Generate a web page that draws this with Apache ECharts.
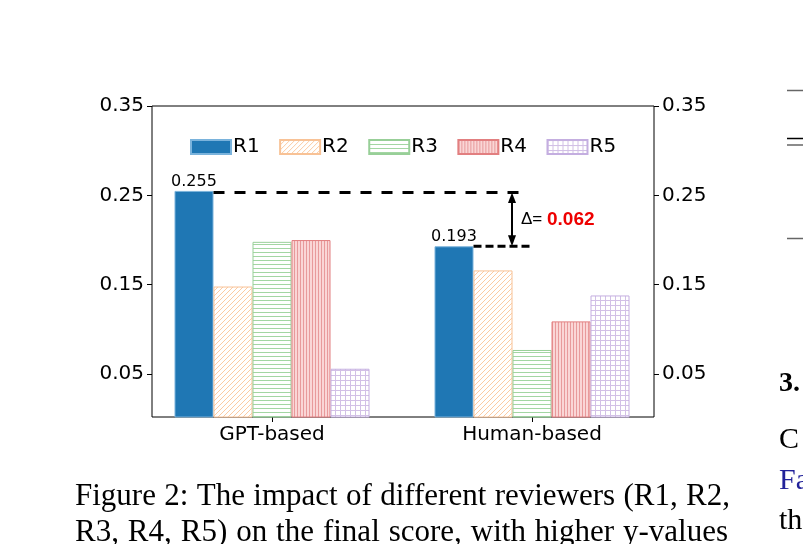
<!DOCTYPE html>
<html>
<head>
<meta charset="utf-8">
<script src="https://cdn.jsdelivr.net/npm/echarts@6/dist/echarts.min.js"></script>
<style>
  html, body { margin: 0; padding: 0; background: #fff; }
  #main { width: 803px; height: 544px; }
</style>
</head>
<body>
<div id="main"></div>
<script>
// data
const groups = ['GPT-based', 'Human-based'];
const reviewers = ['R1', 'R2', 'R3', 'R4', 'R5'];
const r1 = [0.255, 0.193];
const r2 = [0.148, 0.166];
const r3 = [0.198, 0.077];
const r4 = [0.200, 0.109];
const r5 = [0.056, 0.138];
const yTicks = [0.05, 0.15, 0.25, 0.35];

const captionLines = [
    'Figure 2: The impact of different reviewers (R1, R2,',
    'R3, R4, R5) on the final score, with higher y-values'
];

const FONT = 'DejaVu Sans';
const BAR_W = 39;

// small canvas tiles for the hatched bars
function hatch(kind, line, bg) {
    const s = kind === 'vert' ? 3 : kind === 'horiz' ? 4 : 5;
    const c = document.createElement('canvas');
    c.width = s;
    c.height = s;
    const g = c.getContext('2d');
    g.fillStyle = bg;
    g.fillRect(0, 0, s, s);
    g.fillStyle = line;
    g.strokeStyle = line;
    if (kind === 'diag') {
        g.lineWidth = 1;
        g.beginPath();
        g.moveTo(0, s); g.lineTo(s, 0);
        g.moveTo(-1, 1); g.lineTo(1, -1);
        g.moveTo(s - 1, s + 1); g.lineTo(s + 1, s - 1);
        g.stroke();
    } else if (kind === 'horiz') {
        g.fillRect(0, 0, s, 1);
    } else if (kind === 'vert') {
        g.fillRect(0, 0, 1, s);
    } else {
        g.fillRect(0, 0, s, 1);
        g.fillRect(0, 0, 1, s);
    }
    return { image: c, repeat: 'repeat' };
}

const fills = [
    '#1f77b4',
    hatch('diag', '#fbcba2', '#ffffff'),
    hatch('horiz', '#a3d6a3', '#ffffff'),
    hatch('vert', '#e89a9b', '#fad6d6'),
    hatch('grid', '#d2c0e6', '#ffffff')
];
const borders = ['#7ab3dc', '#f8c296', '#98cf98', '#e27f80', '#c4aee0'];
const values = [r1, r2, r3, r4, r5];

const chart = echarts.init(document.getElementById('main'), null, { renderer: 'canvas' });

const yAxisBase = {
    gridIndex: 0,
    type: 'value',
    min: 0.002,
    max: 0.35,
    axisLine: { show: false },
    splitLine: { show: false },
    axisTick: { show: true, length: 5, customValues: yTicks, lineStyle: { color: '#000' } },
    axisLabel: {
        customValues: yTicks,
        fontSize: 20,
        fontFamily: FONT,
        color: '#000',
        margin: 8,
        formatter: v => v.toFixed(2)
    }
};

const option = {
    animation: false,
    backgroundColor: '#fff',
    textStyle: { fontFamily: FONT },
    legend: {
        data: reviewers,
        left: 185,
        top: 132,
        itemWidth: 40,
        itemHeight: 14,
        itemGap: 19.5,
        icon: 'rect',
        textStyle: { fontSize: 20, fontFamily: FONT, color: '#000', padding: [0, 0, 0, -3] }
    },
    grid: [
        { left: 152, top: 106, width: 502, height: 311, show: true, borderColor: '#000', borderWidth: 1, backgroundColor: 'transparent' },
        { left: 142, top: 106, width: 520, height: 311 }
    ],
    xAxis: [
        { gridIndex: 0, type: 'value', min: 0, max: 1, show: false },
        {
            gridIndex: 1,
            type: 'category',
            data: groups,
            axisLine: { show: false },
            axisTick: { show: true, alignWithLabel: true, length: 5, lineStyle: { color: '#000' } },
            axisLabel: { fontSize: 20, fontFamily: FONT, color: '#000', margin: 8 }
        }
    ],
    yAxis: [
        Object.assign({}, yAxisBase, { position: 'left' }),
        Object.assign({}, yAxisBase, { position: 'right' }),
        { gridIndex: 1, type: 'value', min: 0.002, max: 0.35, show: false }
    ],
    series: reviewers.map((name, i) => ({
        name: name,
        type: 'bar',
        xAxisIndex: 1,
        yAxisIndex: 2,
        data: values[i],
        barWidth: BAR_W,
        barGap: '0%',
        clip: true,
        emphasis: { disabled: true },
        itemStyle: { color: fills[i], borderColor: borders[i], borderWidth: 1 },
        label: i === 0 ? {
            show: true,
            position: 'top',
            distance: 1,
            fontSize: 16,
            fontFamily: FONT,
            color: '#000',
            formatter: p => p.value.toFixed(3)
        } : { show: false }
    }))
};

chart.setOption(option);

// annotation: gap between the two R1 bars
const px = (cat, v) => chart.convertToPixel({ xAxisIndex: 1, yAxisIndex: 2 }, [cat, v]);
const [gx, yTop] = px(groups[0], r1[0]);
const [hx, yBot] = px(groups[1], r1[1]);
const ax = hx - 20;
const delta = (r1[0] - r1[1]).toFixed(3);

const graphics = [
    { type: 'line', shape: { x1: gx - 1.5 * BAR_W, y1: yTop + 1.5, x2: hx - 5, y2: yTop + 1.5 }, style: { stroke: '#000', lineWidth: 3, lineDash: [11, 10] }, z: 100 },
    { type: 'line', shape: { x1: hx - 1.5 * BAR_W, y1: yBot, x2: hx, y2: yBot }, style: { stroke: '#000', lineWidth: 3, lineDash: [8, 4] }, z: 100 },
    { type: 'line', shape: { x1: ax, y1: yTop + 6, x2: ax, y2: yBot - 6 }, style: { stroke: '#000', lineWidth: 2 }, z: 100 },
    { type: 'polygon', shape: { points: [[ax, yTop + 1.5], [ax - 4, yTop + 12], [ax + 4, yTop + 12]] }, style: { fill: '#000' }, z: 100 },
    { type: 'polygon', shape: { points: [[ax, yBot], [ax - 4, yBot - 11], [ax + 4, yBot - 11]] }, style: { fill: '#000' }, z: 100 },
    {
        type: 'text', x: ax + 9, y: (yTop + yBot) / 2 + 1, z: 100,
        style: {
            text: '{a|Δ= }{b|' + delta + '}',
            verticalAlign: 'middle',
            rich: {
                a: { fontSize: 17, fontFamily: 'Liberation Sans', fill: '#000' },
                b: { fontSize: 19, fontFamily: 'Liberation Sans', fontWeight: 'bold', fill: '#ee0000' }
            }
        }
    },
    // neighbouring column fragments
    { type: 'text', x: 779, y: 384, style: { text: '3.', font: 'bold 28px "Liberation Serif"', fill: '#000', verticalAlign: 'middle' } },
    { type: 'text', x: 779, y: 440, style: { text: 'C', font: '30px "Liberation Serif"', fill: '#000', verticalAlign: 'middle' } },
    { type: 'text', x: 779, y: 481, style: { text: 'Fa', font: '30px "Liberation Serif"', fill: '#22229a', verticalAlign: 'middle' } },
    { type: 'text', x: 779, y: 521, style: { text: 'th', font: '30px "Liberation Serif"', fill: '#000', verticalAlign: 'middle' } },
    { type: 'line', shape: { x1: 787, y1: 90.5, x2: 803, y2: 90.5 }, style: { stroke: '#666', lineWidth: 1.5 } },
    { type: 'line', shape: { x1: 787, y1: 138.5, x2: 803, y2: 138.5 }, style: { stroke: '#000', lineWidth: 1.5 } },
    { type: 'line', shape: { x1: 787, y1: 145, x2: 803, y2: 145 }, style: { stroke: '#666', lineWidth: 1.5 } },
    { type: 'line', shape: { x1: 787, y1: 238.5, x2: 803, y2: 238.5 }, style: { stroke: '#666', lineWidth: 1.5 } }
];

// caption, justified like the printed column
const capFont = '31px "Liberation Serif"';
const meas = document.createElement('canvas').getContext('2d');
meas.font = capFont;
const capLeft = 75;
const capRight = [730, 728];
const capY = [497, 533];
captionLines.forEach((line, li) => {
    const words = line.split(' ');
    const widths = words.map(w => meas.measureText(w).width);
    const total = widths.reduce((a, b) => a + b, 0);
    const gap = (capRight[li] - capLeft - total) / (words.length - 1);
    let x = capLeft;
    words.forEach((w, wi) => {
        graphics.push({ type: 'text', x: x, y: capY[li], style: { text: w, font: capFont, fill: '#000', verticalAlign: 'middle' } });
        x += widths[wi] + gap;
    });
});

chart.setOption({ graphic: graphics });
</script>
</body>
</html>
